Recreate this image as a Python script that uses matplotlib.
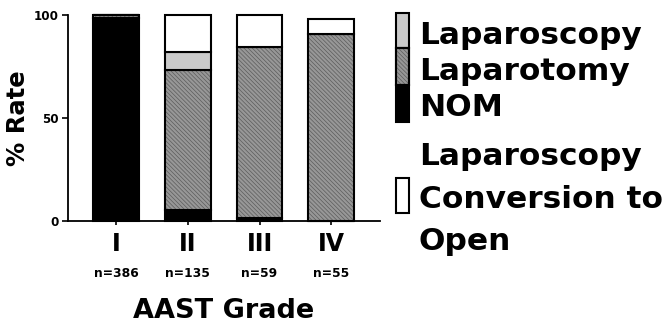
import matplotlib
matplotlib.use("Agg")
import matplotlib.pyplot as plt
import matplotlib.patches as mpatches
import numpy as np

plt.rcParams['font.family'] = ['DejaVu Sans']
plt.rcParams['font.weight'] = 'bold'
plt.rcParams['hatch.linewidth'] = 0.5

# data (% of patients per AAST grade)
grades = ['I', 'II', 'III', 'IV']
n_patients = [386, 135, 59, 55]
nom = [98.5, 5.5, 1.5, 0.0]
laparotomy = [1.5, 67.8, 82.8, 90.8]
laparoscopy = [0.0, 8.9, 0.0, 0.0]
conversion = [0.0, 17.8, 15.7, 7.5]

W, H = 669, 325
fig = plt.figure(figsize=(W / 100, H / 100), dpi=100)

# axes box in pixels: x 68..380, y 15..221
ax = fig.add_axes([68 / W, (H - 221) / H, (380 - 68) / W, (221 - 15) / H])

x = np.arange(len(grades))
bw = 0.64
gray_face = '#979797'
hatch_col = '#5c5c5c'
hatch_pat = '\\\\\\\\\\\\\\\\'
light = '#cacaca'

bottom = np.zeros(len(grades))
# NOM
ax.bar(x, nom, bw, bottom=bottom, color='black', edgecolor='black', linewidth=1.5, clip_on=False)
bottom += nom
# Laparotomy (hatched grey)
ax.bar(x, laparotomy, bw, bottom=bottom, color=gray_face, edgecolor='none', linewidth=0, clip_on=False)
ax.bar(x, laparotomy, bw, bottom=bottom, fill=False, hatch=hatch_pat, edgecolor=hatch_col, linewidth=0, clip_on=False)
ax.bar(x, laparotomy, bw, bottom=bottom, fill=False, edgecolor='black', linewidth=1.5, clip_on=False)
bottom += laparotomy
# Laparoscopy
ax.bar(x, laparoscopy, bw, bottom=bottom, color=light, edgecolor='black', linewidth=1.5, clip_on=False)
bottom += laparoscopy
# Laparoscopy conversion to open
ax.bar(x, conversion, bw, bottom=bottom, color='white', edgecolor='black', linewidth=1.5, clip_on=False)

ax.set_xlim(-0.67, 3.68)
ax.set_ylim(0, 100)
for s in ['top', 'right']:
    ax.spines[s].set_visible(False)
for s in ['left', 'bottom']:
    ax.spines[s].set_linewidth(1.3)

ax.set_yticks([0, 50, 100])
ax.tick_params(axis='y', direction='out', length=4, width=1.2, labelsize=8.6, pad=3)
ax.set_xticks(x)
ax.set_xticklabels(grades, fontsize=17, fontweight='bold')
ax.tick_params(axis='x', direction='out', length=3, width=1.2, pad=5)
for lab in ax.get_yticklabels():
    lab.set_fontweight('bold')

for xi, n in zip(x, n_patients):
    ax.text(xi, -0.257, 'n=%d' % n, transform=ax.get_xaxis_transform(),
            ha='center', va='center', fontsize=8.9, fontweight='bold')

ax.set_xlabel('AAST Grade', fontsize=19.5, fontweight='bold')
ax.xaxis.set_label_coords(0.5, (221 - 311) / 206)
ax.xaxis.label.set_va('center')
ax.set_ylabel('% Rate', fontsize=17.5, fontweight='bold')
ax.yaxis.set_label_coords((18 - 68) / 312, 0.5)
ax.yaxis.label.set_va('center')

# legend drawn by hand in pixel positions
def fx(px):
    return px / W

def fy(py):
    return (H - py) / H

def legend_box(y0, y1, face, hatch=None):
    r = mpatches.Rectangle((fx(396), fy(y1)), fx(409) - fx(396), fy(y0) - fy(y1),
                           transform=fig.transFigure, facecolor=face,
                           edgecolor='black', linewidth=1.5)
    fig.patches.append(r)
    if hatch:
        h = mpatches.Rectangle((fx(396), fy(y1)), fx(409) - fx(396), fy(y0) - fy(y1),
                               transform=fig.transFigure, fill=False, hatch=hatch,
                               edgecolor=hatch_col, linewidth=0)
        fig.patches.append(h)
        o = mpatches.Rectangle((fx(396), fy(y1)), fx(409) - fx(396), fy(y0) - fy(y1),
                               transform=fig.transFigure, fill=False,
                               edgecolor='black', linewidth=1.5)
        fig.patches.append(o)

legend_box(13, 48, light)
legend_box(48, 85, gray_face, hatch=hatch_pat)
legend_box(85, 122, 'black')
legend_box(178, 213, 'white')

leg_fs = 22.5
for txt, base in [('Laparoscopy', 44), ('Laparotomy', 80), ('NOM', 116),
                  ('Laparoscopy', 165), ('Conversion to', 208), ('Open', 250)]:
    fig.text(fx(419), fy(base), txt, ha='left', va='baseline',
             fontsize=leg_fs, fontweight='bold')

fig.savefig('out.png', dpi=100)
